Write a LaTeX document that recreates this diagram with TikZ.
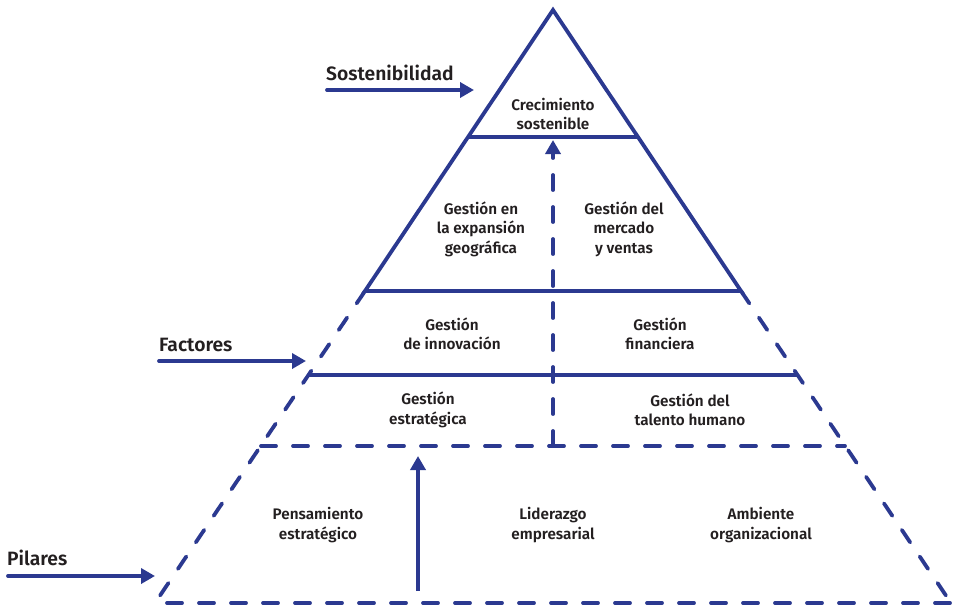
\documentclass[tikz,border=0pt]{standalone}
\usepackage{fontspec}
\setmainfont{Fira Sans}[UprightFont={* Medium},BoldFont={* SemiBold}]
\usetikzlibrary{arrows.meta}
\definecolor{pblue}{RGB}{43,57,144}
\definecolor{ptext}{RGB}{35,31,32}
\begin{document}
\begin{tikzpicture}[x=1pt,y=-1pt,
  edge/.style={draw=pblue,line width=3.8pt},
  dashedge/.style={draw=pblue,line width=3.8pt,line cap=round,dash pattern=on 15pt off 17pt},
  arr/.style={-{Triangle[length=14pt,width=15pt]}},
  cell/.style={text=ptext,align=center,font=\bfseries\fontsize{15.3}{19.5}\selectfont,inner sep=0pt},
  lab/.style={text=ptext,anchor=west,font=\bfseries\fontsize{19.3}{22}\selectfont,inner sep=0pt}]
\useasboundingbox (0,0) rectangle (955,605);
% pyramid corners
\coordinate (apex) at (553,10);
\coordinate (a1l) at (468,137); \coordinate (a1r) at (638,137);
\coordinate (a2l) at (365,291); \coordinate (a2r) at (741,291);
\coordinate (a3l) at (309,375); \coordinate (a3r) at (797,375);
\coordinate (a4l) at (261,446); \coordinate (a4r) at (845,446);
\coordinate (bl) at (155,603); \coordinate (br) at (951,603);
\coordinate (bl2) at (167,603);
\coordinate (c4) at (553,446);
\coordinate (c1) at (553,140);
\coordinate (s0) at (418,591); \coordinate (s1) at (418,456);
% solid part
\draw[edge,line join=miter] (a2l) -- (apex) -- (a2r) -- cycle;
\draw[edge] (a1l) -- (a1r);
\draw[edge] (a3l) -- (a3r);
% dashed part
\draw[dashedge] (a2l) -- (bl);
\draw[dashedge] (a2r) -- (br);
\draw[dashedge] (a4l) -- (a4r);
\draw[dashedge] (bl2) -- (br);
\draw[dashedge,arr] (c4) -- (c1);
\draw[edge,arr] (s0) -- (s1);
% labels with arrows
\node[lab] (sost) at (326,73) {Sostenibilidad};
\node[lab] (fact) at (159,345) {Factores};
\node[lab] (pil) at (7,558) {Pilares};
\coordinate (sa0) at (327,90); \coordinate (sa1) at (474,90);
\coordinate (fa0) at (159,361); \coordinate (fa1) at (306,361);
\coordinate (pa0) at (8,576); \coordinate (pa1) at (155,576);
\draw[edge,line cap=round,arr] (sa0) -- (sa1);
\draw[edge,line cap=round,arr] (fa0) -- (fa1);
\draw[edge,line cap=round,arr] (pa0) -- (pa1);
% cells
\node[cell] (crec) at (553,114) {Crecimiento\\sostenible};
\node[cell] (exp) at (481,229) {Gestión en\\la expansión\\geográfica};
\node[cell] (merc) at (624,229) {Gestión del\\mercado\\y ventas};
\node[cell] (inno) at (452,334) {Gestión\\de innovación};
\node[cell] (fin) at (660,334) {Gestión\\financiera};
\node[cell] (estr) at (428,410) {Gestión\\estratégica};
\node[cell] (tal) at (690,410) {Gestión del\\talento humano};
\node[cell] (pens) at (318,525) {Pensamiento\\estratégico};
\node[cell] (lid) at (553,525) {Liderazgo\\empresarial};
\node[cell] (amb) at (761,525) {Ambiente\\organizacional};
\end{tikzpicture}
\end{document}
